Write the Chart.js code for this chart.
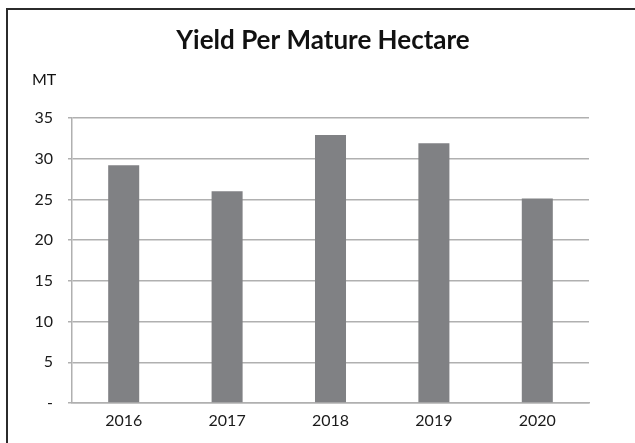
<!DOCTYPE html>
<html>
<head>
<meta charset="utf-8">
<script src="https://cdn.jsdelivr.net/npm/chart.js@4"></script>
<style>
    body { margin: 0; background: #fff; }
    #frame {
        position: absolute; left: 6px; top: 8px; width: 700px; height: 500px;
        border-top: 2px solid #2b2b2b; border-left: 2px solid #2b2b2b;
    }
    #wrap { position: absolute; left: 0; top: 0; width: 635px; height: 443px; }
</style>
</head>
<body>
<div id="frame"></div>
<div id="wrap"><canvas id="chart1" width="635" height="443"></canvas></div>
<script>
// values
const years = ['2016', '2017', '2018', '2019', '2020'];
const yieldPerHectare = [29.2, 26.0, 32.9, 31.9, 25.1];
const yTicks = [0, 5, 10, 15, 20, 25, 30, 35];
const chartTitle = 'Yield Per Mature Hectare';
const unit = 'MT';

// title and unit label sit off-centre in the original, so draw them here
const headerText = {
    id: 'headerText',
    afterDraw(chart) {
        const ctx = chart.ctx;
        ctx.save();
        ctx.fillStyle = '#111';
        ctx.textBaseline = 'middle';
        ctx.textAlign = 'center';
        ctx.font = 'bold 26px Lato';
        ctx.fillText(chartTitle, 323, 41);
        ctx.textAlign = 'left';
        ctx.font = '16px Lato';
        ctx.fillText(unit, 32, 80);
        ctx.restore();
    }
};

const ctx1 = document.getElementById('chart1').getContext('2d');
const myChart1 = new Chart(ctx1, {
    type: 'bar',
    data: {
        labels: years,
        datasets: [{
            label: chartTitle,
            data: yieldPerHectare,
            backgroundColor: '#808184',
            borderWidth: 0,
            categoryPercentage: 1,
            barPercentage: 0.3
        }]
    },
    options: {
        responsive: false,
        animation: false,
        layout: { padding: { left: 14, right: 46, top: 118, bottom: 0 } },
        plugins: {
            legend: { display: false },
            tooltip: { enabled: false },
            title: { display: false }
        },
        scales: {
            x: {
                grid: { display: true, drawOnChartArea: false, drawTicks: false },
                border: { display: true, color: '#b0b0b0', width: 1.5 },
                ticks: { color: '#1a1a1a', font: { family: 'Lato', size: 16 }, padding: 8, maxRotation: 0 },
                afterFit: scale => { scale.height = 40; }
            },
            y: {
                min: 0,
                max: 35,
                afterBuildTicks: scale => { scale.ticks = yTicks.map(v => ({ value: v })); },
                grid: { color: '#b0b0b0', lineWidth: 1.5, tickLength: 4 },
                border: { display: true, color: '#b0b0b0', width: 1.5 },
                ticks: {
                    color: '#1a1a1a',
                    font: { family: 'Lato', size: 16 },
                    padding: 15,
                    callback: v => v === 0 ? '-' : v
                },
                afterFit: scale => { scale.width = 58; }
            }
        }
    },
    plugins: [headerText]
});
</script>
</body>
</html>
